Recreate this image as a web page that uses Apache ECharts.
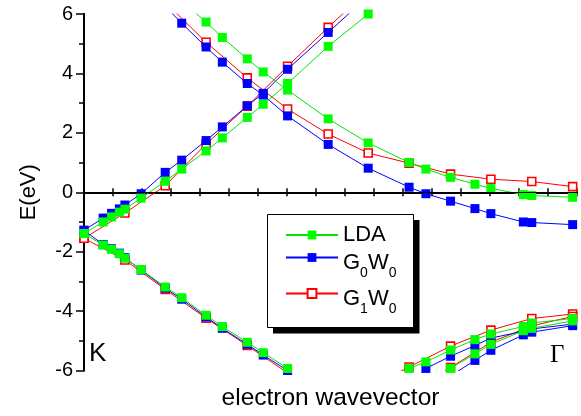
<!DOCTYPE html>
<html>
<head>
<meta charset="utf-8">
<script src="https://cdn.jsdelivr.net/npm/echarts@6/dist/echarts.min.js"></script>
<style>
  html, body { margin: 0; padding: 0; background: #fff; }
  #chart { width: 581px; height: 416px; }
</style>
</head>
<body>
<div id="chart"></div>
<script>
// band energies (eV) along the K -> Gamma path, [k, E] pairs
const ldaDesc = [[3.37, 6.44], [4.21, 5.73], [4.77, 5.21], [5.63, 4.49], [6.18, 4.05], [7.02, 3.44], [8.42, 2.47], [9.80, 1.66], [11.21, 1.00], [11.79, 0.78], [12.64, 0.50], [13.48, 0.27], [14.03, 0.13], [15.15, -0.08], [15.44, -0.11], [16.85, -0.17]];
const ldaRise = [[0, -1.39], [0.66, -1.0], [0.95, -0.83], [1.22, -0.67], [1.41, -0.57], [1.97, -0.2], [2.80, 0.37], [3.37, 0.78], [4.21, 1.39], [4.77, 1.83], [5.63, 2.52], [6.18, 2.96], [7.02, 3.66], [8.42, 4.91], [9.80, 6.0]];
const ldaVal = [[0, -1.39], [0.66, -1.78], [0.95, -1.92], [1.22, -2.07], [1.41, -2.22], [1.97, -2.6], [2.80, -3.19], [3.37, -3.55], [4.21, -4.14], [4.77, -4.52], [5.63, -5.05], [6.18, -5.40], [7.02, -5.93], [8.42, -6.85]];
const ldaGam1 = [[9.80, -6.6], [11.21, -5.93], [11.79, -5.71], [12.64, -5.31], [13.48, -4.96], [14.03, -4.77], [15.15, -4.52], [15.44, -4.40], [16.85, -4.25]];
const ldaGam2 = [[11.79, -6.42], [12.64, -5.93], [13.48, -5.44], [14.03, -5.12], [15.15, -4.66], [15.44, -4.58], [16.85, -4.33]];

const g0Desc = [[2.80, 6.26], [3.37, 5.69], [4.21, 4.89], [4.77, 4.38], [5.63, 3.66], [6.18, 3.27], [7.02, 2.57], [8.42, 1.61], [9.80, 0.81], [11.21, 0.17], [11.79, -0.05], [12.64, -0.30], [13.48, -0.55], [14.03, -0.72], [15.15, -1.00], [15.44, -1.02], [16.85, -1.09]];
const g0Rise = [[0, -1.28], [0.66, -0.87], [0.95, -0.71], [1.22, -0.56], [1.41, -0.43], [1.97, -0.05], [2.80, 0.67], [3.37, 1.08], [4.21, 1.74], [4.77, 2.20], [5.63, 2.91], [6.18, 3.33], [7.02, 4.14], [8.42, 5.38], [9.80, 6.6]];
const g0Val = [[0, -1.28], [0.66, -1.76], [0.95, -1.90], [1.22, -2.05], [1.41, -2.20], [1.97, -2.62], [2.80, -3.23], [3.37, -3.60], [4.21, -4.20], [4.77, -4.58], [5.63, -5.12], [6.18, -5.48], [7.02, -6.0], [8.42, -6.95]];
const g0Gam1 = [[11.21, -6.35], [11.79, -5.93], [12.64, -5.52], [13.48, -5.16], [14.03, -4.91], [15.15, -4.68], [15.44, -4.60], [16.85, -4.44]];
const g0Gam2 = [[12.64, -6.18], [13.48, -5.66], [14.03, -5.32], [15.15, -4.80], [15.44, -4.71], [16.85, -4.49]];

const g1Desc = [[2.80, 6.4], [4.21, 5.05], [5.63, 3.85], [7.02, 2.80], [8.42, 1.96], [9.80, 1.32], [11.21, 0.98], [12.64, 0.61], [14.03, 0.44], [15.44, 0.36], [16.85, 0.19]];
const g1Rise = [[0, -1.55], [1.41, -0.70], [2.80, 0.22], [4.21, 1.62], [5.63, 2.90], [7.02, 4.24], [8.42, 5.55], [9.80, 6.8]];
const g1Val = [[0, -1.55], [1.41, -2.28], [2.80, -3.27], [4.21, -4.24], [5.63, -5.16], [7.02, -6.08]];
const g1Gam1 = [[9.80, -6.6], [11.21, -5.88], [12.64, -5.18], [14.03, -4.64], [15.44, -4.25], [16.85, -4.10]];
const g1Gam2 = [[11.21, -6.8], [12.64, -5.90], [14.03, -5.05], [15.44, -4.50], [16.85, -4.18]];

const yTicks = [-6, -4, -2, 0, 2, 4, 6];

const font = "'Liberation Sans', Arial, sans-serif";

function band(name, data, kind) {
    const s = {
        type: "line",
        name: name,
        data: data,
        symbol: "rect",
        animation: false,
        clip: true,
        emphasis: { disabled: true },
        xAxisIndex: 0,
        yAxisIndex: 0
    };
    if (kind === "lda") {
        s.color = "#00ff00";
        s.symbolSize = 9;
        s.lineStyle = { color: "#00e600", width: 1 };
        s.itemStyle = { color: "#00ff00" };
        s.z = 4;
    } else if (kind === "g0") {
        s.color = "#0000ff";
        s.symbolSize = 9;
        s.lineStyle = { color: "#0000ff", width: 1 };
        s.itemStyle = { color: "#0000ff" };
        s.z = 3;
    } else {
        s.color = "#ff0000";
        s.symbolSize = 8;
        s.lineStyle = { color: "#ff0000", width: 1 };
        s.itemStyle = { color: "#ffffff", borderColor: "#ff0000", borderWidth: 1.6 };
        s.z = 2;
    }
    return s;
}

const series = [
    band("G1W0", g1Desc, "g1"), band("G1W0", g1Rise, "g1"), band("G1W0", g1Val, "g1"),
    band("G1W0", g1Gam1, "g1"), band("G1W0", g1Gam2, "g1"),
    band("G0W0", g0Desc, "g0"), band("G0W0", g0Rise, "g0"), band("G0W0", g0Val, "g0"),
    band("G0W0", g0Gam1, "g0"), band("G0W0", g0Gam2, "g0"),
    band("LDA", ldaDesc, "lda"), band("LDA", ldaRise, "lda"), band("LDA", ldaVal, "lda"),
    band("LDA", ldaGam1, "lda"), band("LDA", ldaGam2, "lda")
];

// zero energy reference line
series[0].markLine = {
    silent: true,
    symbol: "none",
    animation: false,
    label: { show: false },
    lineStyle: { color: "#000", width: 1, type: "solid" },
    data: [{ yAxis: 0 }]
};

const rich = {
    a: { fontSize: 22, lineHeight: 24, padding: [6, 0, 0, 0], verticalAlign: "top", fontFamily: font, color: "#000" },
    s: { fontSize: 14, lineHeight: 16, padding: [21, 0, 0, 0], verticalAlign: "top", fontFamily: font, color: "#000" }
};

function legendAt(name, top) {
    return {
        data: [name],
        left: 285,
        top: top,
        padding: 0,
        itemWidth: 52,
        itemHeight: 11,
        selectedMode: false,
        z: 10,
        textStyle: { fontSize: 22, fontFamily: font, color: "#000", rich: rich },
        formatter: function (n) {
            if (n === "G0W0") return "{a|G}{s|0}{a|W}{s|0}";
            if (n === "G1W0") return "{a|G}{s|1}{a|W}{s|0}";
            return n;
        }
    };
}

const chart = echarts.init(document.getElementById("chart"), null, { renderer: "canvas" });

chart.setOption({
    backgroundColor: "#fff",
    animation: false,
    grid: { left: 84, right: 4, top: 14, bottom: 41 },
    xAxis: [
        {
            type: "value", min: 0, max: 17, interval: 1, position: "bottom",
            name: "electron wavevector", nameLocation: "middle", nameGap: 15.5,
            nameTextStyle: { fontSize: 24.5, fontFamily: font, color: "#000" },
            axisLine: { lineStyle: { color: "#000", width: 2 } },
            axisTick: { inside: true, length: 4, lineStyle: { color: "#000", width: 1.5 } },
            axisLabel: { show: false },
            splitLine: { show: false }
        },
        {
            type: "value", min: 0, max: 17, interval: 1, position: "top",
            axisLine: { lineStyle: { color: "#000", width: 2 } },
            axisTick: { inside: true, length: 4, lineStyle: { color: "#000", width: 1.5 } },
            axisLabel: { show: false },
            splitLine: { show: false }
        }
    ],
    yAxis: [
        {
            type: "value", min: yTicks[0], max: yTicks[yTicks.length - 1], interval: 2, position: "left",
            name: "E(eV)", nameLocation: "middle", nameGap: 44, nameRotate: 90,
            nameTextStyle: { fontSize: 22, fontFamily: font, color: "#000" },
            axisLine: { lineStyle: { color: "#000", width: 2 } },
            axisTick: { length: 8, lineStyle: { color: "#000", width: 1.5 } },
            minorTick: { show: true, splitNumber: 2, length: 5, lineStyle: { color: "#000", width: 1.5 } },
            axisLabel: { fontSize: 20, fontFamily: font, color: "#000", margin: 11 },
            splitLine: { show: false }
        },
        {
            type: "value", min: -6, max: 6, interval: 1, position: "right",
            axisLine: { lineStyle: { color: "#000", width: 2 } },
            axisTick: { inside: true, length: 4, lineStyle: { color: "#000", width: 1.5 } },
            axisLabel: { show: false },
            splitLine: { show: false }
        }
    ],
    legend: [
        legendAt("LDA", 224),
        legendAt("G0W0", 245.5),
        legendAt("G1W0", 281.5)
    ],
    graphic: [
        { type: "rect", z: 5, shape: { x: 273, y: 220, width: 146.5, height: 113.5 }, style: { fill: "#000" } },
        { type: "rect", z: 6, shape: { x: 267.5, y: 214.5, width: 146, height: 113 }, style: { fill: "#fff", stroke: "#000", lineWidth: 1 } },
        { type: "text", z: 6, left: 89, top: 341, style: { text: "K", fontSize: 26, fontFamily: font, fill: "#000" } },
        { type: "text", z: 6, left: 550, top: 343, style: { text: "Γ", fontSize: 25, fontFamily: "'Liberation Serif', 'Times New Roman', serif", fill: "#000" } }
    ],
    series: series
});
</script>
</body>
</html>
